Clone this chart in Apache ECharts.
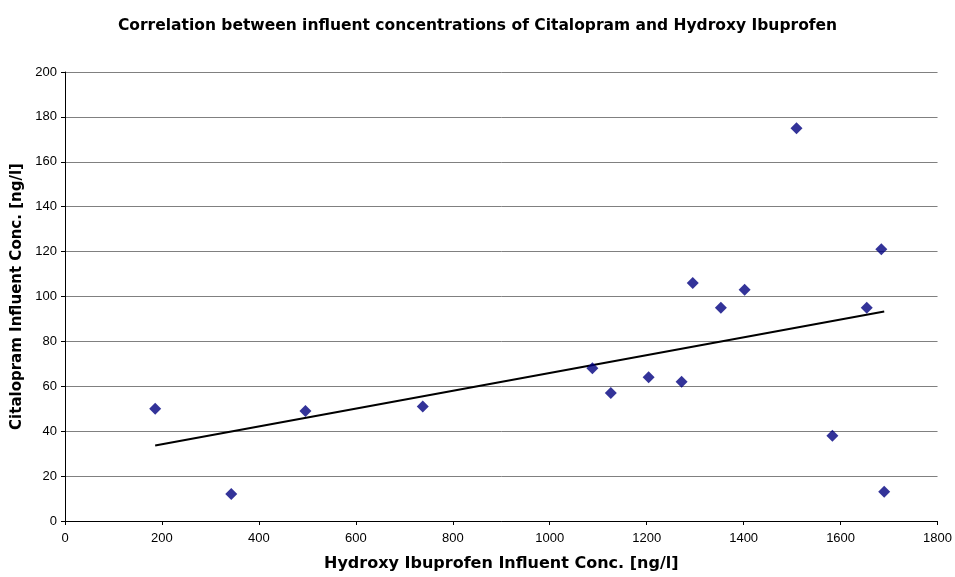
<!DOCTYPE html>
<html>
<head>
<meta charset="utf-8">
<title>Citalopram vs Hydroxy Ibuprofen</title>
<script src="https://cdn.jsdelivr.net/npm/echarts@6/dist/echarts.min.js"></script>
<style>
  html, body { margin: 0; padding: 0; background: #fff; }
  #chart { width: 955px; height: 577px; }
</style>
</head>
<body>
<div id="chart"></div>
<script>
// influent concentrations [ng/l]
const hydroxyIbuprofen = [186, 343, 496, 738, 1088, 1126, 1204, 1272, 1295, 1353, 1402, 1509, 1583, 1654, 1684, 1690]
const citalopram = [50, 12, 49, 51, 68, 57, 64, 62, 106, 95, 103, 175, 38, 95, 121, 13]

const points = hydroxyIbuprofen.map((x, i) => [x, citalopram[i]])

// linear trendline (least squares), drawn from min x to max x like Excel does
function linearFit(xs, ys) {
  const n = xs.length
  const mx = xs.reduce((a, b) => a + b, 0) / n
  const my = ys.reduce((a, b) => a + b, 0) / n
  let sxy = 0, sxx = 0
  for (let i = 0; i < n; i++) {
    sxy += (xs[i] - mx) * (ys[i] - my)
    sxx += (xs[i] - mx) * (xs[i] - mx)
  }
  const slope = sxy / sxx
  return x => my + slope * (x - mx)
}
const fit = linearFit(hydroxyIbuprofen, citalopram)
const xMin = Math.min(...hydroxyIbuprofen)
const xMax = Math.max(...hydroxyIbuprofen)
const trend = [[xMin, fit(xMin)], [xMax, fit(xMax)]]

const FONT = '"Liberation Sans", Arial, sans-serif'
const BOLD_FONT = '"DejaVu Sans", "Liberation Sans", Arial, sans-serif'

const chart = echarts.init(document.getElementById('chart'))
chart.setOption({
  backgroundColor: '#fff',
  animation: false,
  title: {
    text: 'Correlation between influent concentrations of Citalopram and Hydroxy Ibuprofen',
    left: 'center',
    top: 13,
    textStyle: { fontFamily: BOLD_FONT, fontSize: 15.5, fontWeight: 'bold', color: '#000' }
  },
  grid: { left: 65, right: 17, top: 72, bottom: 55 },
  xAxis: {
    type: 'value',
    min: 0,
    max: 1800,
    interval: 200,
    name: 'Hydroxy Ibuprofen Influent Conc. [ng/l]',
    nameLocation: 'middle',
    nameGap: 35,
    nameTextStyle: { fontFamily: BOLD_FONT, fontSize: 16, fontWeight: 'bold', color: '#000' },
    axisLine: { show: true, lineStyle: { color: '#000', width: 1 } },
    axisTick: { show: true, inside: false, length: 4, lineStyle: { color: '#000' } },
    axisLabel: { fontFamily: FONT, fontSize: 13, color: '#000', margin: 11, formatter: v => String(v) },
    splitLine: { show: false }
  },
  yAxis: {
    type: 'value',
    min: 0,
    max: 200,
    interval: 20,
    name: 'Citalopram Influent Conc. [ng/l]',
    nameLocation: 'middle',
    nameGap: 40,
    nameTextStyle: { fontFamily: BOLD_FONT, fontSize: 15, fontWeight: 'bold', color: '#000' },
    axisLine: { show: true, lineStyle: { color: '#000', width: 1 } },
    axisTick: { show: true, inside: false, length: 4, lineStyle: { color: '#000' } },
    axisLabel: { fontFamily: FONT, fontSize: 13, color: '#000', margin: 8, formatter: v => String(v) },
    splitLine: { show: true, lineStyle: { color: '#808080', width: 1 } }
  },
  series: [
    {
      name: 'Citalopram',
      type: 'scatter',
      symbol: 'diamond',
      symbolSize: 12,
      itemStyle: { color: '#000080' },
      data: points,
      z: 3
    },
    {
      name: 'Linear trend',
      type: 'line',
      data: trend,
      symbol: 'none',
      lineStyle: { color: '#000', width: 2 },
      z: 2
    }
  ]
})
</script>
</body>
</html>
